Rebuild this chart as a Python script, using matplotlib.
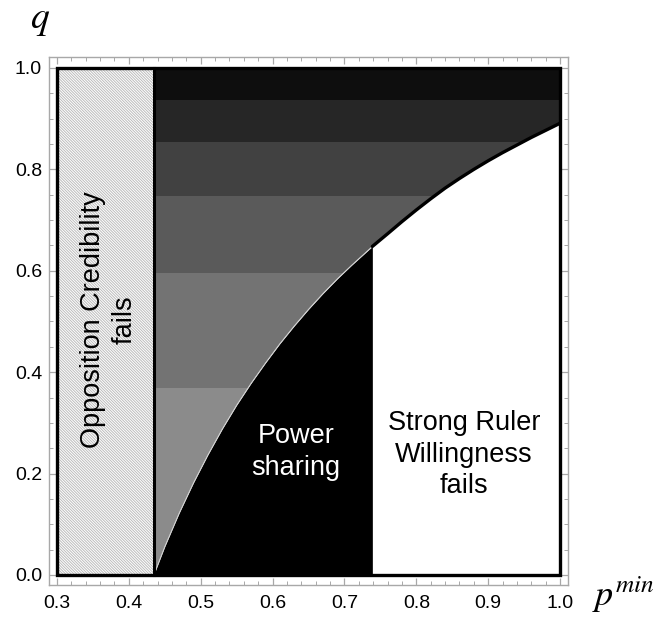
import numpy as np
import matplotlib
matplotlib.use("Agg")
import matplotlib.pyplot as plt
from matplotlib.patches import Rectangle, Polygon
from matplotlib.ticker import MultipleLocator

plt.rcParams['font.family'] = ['Liberation Sans', 'DejaVu Sans']
plt.rcParams['mathtext.fontset'] = 'stix'
plt.rcParams['hatch.linewidth'] = 0.7

# ---- data ----
p_min_left = 0.4347         # Opposition credibility threshold
p_power_right = 0.7388      # Strong ruler willingness threshold
curve_p = [0.4347, 0.45, 0.47, 0.49, 0.51, 0.53, 0.55, 0.57, 0.59, 0.61, 0.63,
           0.65, 0.67, 0.69, 0.71, 0.7388, 0.76, 0.78, 0.80, 0.82, 0.84,
           0.86, 0.88, 0.90, 0.92, 0.94, 0.96, 0.98, 1.00]
curve_q = [0.0, 0.056, 0.122, 0.182, 0.237, 0.288, 0.335, 0.378, 0.418, 0.456, 0.491,
           0.524, 0.555, 0.584, 0.611, 0.648, 0.673, 0.697, 0.720, 0.742, 0.763,
           0.782, 0.800, 0.817, 0.833, 0.848, 0.863, 0.877, 0.891]
band_edges = [0.0, 0.369, 0.595, 0.747, 0.854, 0.936, 1.0]
band_colors = ['#8b8b8b', '#737373', '#5a5a5a', '#414141', '#262626', '#0e0e0e']
x_ticks = [0.3, 0.4, 0.5, 0.6, 0.7, 0.8, 0.9, 1.0]
y_ticks = [0.0, 0.2, 0.4, 0.6, 0.8, 1.0]

fig = plt.figure(figsize=(6.65, 6.2), dpi=100)
ax = fig.add_axes([0.0737, 0.0565, 0.7805, 0.8516])
ax.set_xlim(0.2889, 1.0111)
ax.set_ylim(-0.0197, 1.0217)

# hatched region
ax.add_patch(Rectangle((0.3, 0.0), p_min_left - 0.3, 1.0, facecolor='white',
                       edgecolor='#bcbcbc', hatch='\\' * 12, linewidth=0, zorder=1))

# region above curve (clip polygon)
cp = np.array(curve_p)
cq = np.array(curve_q)
clip_xy = np.column_stack([np.concatenate([cp, [1.0, p_min_left]]),
                           np.concatenate([cq, [1.0, 1.0]])])
clip_poly = Polygon(clip_xy, closed=True, transform=ax.transData, facecolor='none',
                    edgecolor='none')
ax.add_patch(clip_poly)
for lo, hi, col in zip(band_edges[:-1], band_edges[1:], band_colors):
    f = ax.fill_between([p_min_left, 1.0], lo, hi, color=col, linewidth=0, zorder=2)
    f.set_clip_path(clip_poly)

# power sharing region
mask = cp <= p_power_right + 1e-9
ax.fill_between(cp[mask], 0, cq[mask], color='black', linewidth=0, zorder=3)

# boundary lines
ax.plot(cp[mask], cq[mask], color='#d0d0d0', lw=0.6, zorder=4)
upper = cp >= p_power_right - 1e-9
ax.plot(cp[upper], cq[upper], color='black', lw=2.4, zorder=5, solid_capstyle='round')
ax.plot([p_min_left, p_min_left], [0, 1], color='black', lw=2.2, zorder=5)
ax.add_patch(Rectangle((0.3, 0.0), 0.7, 1.0, facecolor='none', edgecolor='black',
                       lw=2.4, zorder=6))

# texts
ax.text(0.372, 0.503, 'Opposition Credibility\nfails', rotation=90,
        ha='center', va='center', fontsize=19.5, linespacing=1.25, color='black', zorder=7)
ax.text(0.6326, 0.243, 'Power\nsharing', ha='center', va='center', fontsize=19.5,
        linespacing=1.28, color='white', zorder=7)
ax.text(0.866, 0.237, 'Strong Ruler\nWillingness\nfails', ha='center', va='center',
        fontsize=19.5, linespacing=1.28, color='black', zorder=7)

# axes styling
for s in ax.spines.values():
    s.set_color('#a8a8a8')
    s.set_linewidth(1.0)
ax.set_xticks(x_ticks)
ax.set_yticks(y_ticks)
ax.set_xticklabels([f'{v:.1f}' for v in x_ticks])
ax.set_yticklabels([f'{v:.1f}' for v in y_ticks])
ax.xaxis.set_minor_locator(MultipleLocator(0.02))
ax.yaxis.set_minor_locator(MultipleLocator(0.05))
ax.tick_params(which='both', direction='in', top=True, right=True, color='#a8a8a8',
               labelsize=14, labelcolor='black')
ax.tick_params(which='major', length=5, width=0.9, pad=5)
ax.tick_params(axis='x', which='major', pad=7)
ax.tick_params(which='minor', length=3, width=0.7)

fig.text(40 / 665, 1 - 20 / 620, r'$q$', fontsize=27, ha='center', va='center')
fig.text(623 / 665, 1 - 595 / 620, r'$p^{min}$', fontsize=26, ha='center', va='center')

fig.savefig('out.png', dpi=100)
